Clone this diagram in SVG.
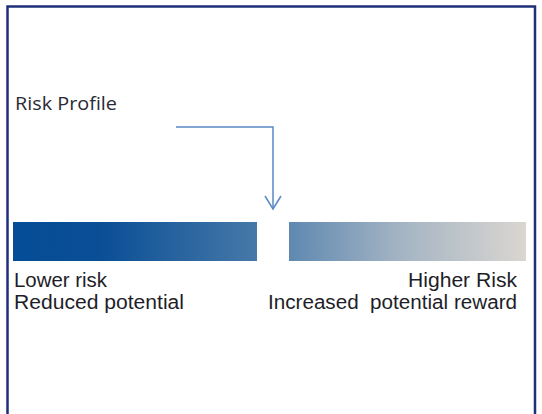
<svg xmlns="http://www.w3.org/2000/svg" width="542" height="414" viewBox="0 0 542 414">
  <style>
    .lbl { font-family: "Liberation Sans", Arial, sans-serif; font-size: 20px; fill: #1e1e28; }
    .title { font-family: "Open Sans", "Noto Sans", sans-serif; font-size: 18.5px; fill: #2a2a35; }
    .conn { fill: none; stroke: #5a89c3; stroke-width: 1.5; }
  </style>
  <defs>
    <linearGradient id="risk" gradientUnits="userSpaceOnUse" x1="13" y1="0" x2="526" y2="0">
      <stop offset="0" stop-color="#054d97"/>
      <stop offset="0.17" stop-color="#0a4e96"/>
      <stop offset="0.476" stop-color="#4679a8"/>
      <stop offset="0.54" stop-color="#5f89b1"/>
      <stop offset="0.75" stop-color="#a3b3c3"/>
      <stop offset="1" stop-color="#dad6d1"/>
    </linearGradient>
  </defs>
  <rect x="0" y="0" width="542" height="414" fill="#ffffff"/>
  <path d="M7.5,420 V6.5 H535 V420" fill="none" stroke="#1f2f78" stroke-width="2.5"/>

  <g id="risk-profile-label">
    <text class="title" x="15" y="110" textLength="102" lengthAdjust="spacingAndGlyphs">Risk Profile</text>
  </g>

  <g id="lower-bar">
    <rect x="13" y="222" width="244" height="39" fill="url(#risk)"/>
  </g>
  <g id="higher-bar">
    <rect x="289" y="222" width="237" height="39" fill="url(#risk)"/>
  </g>

  <g id="lower-label">
    <text class="lbl" x="14" y="287" textLength="93" lengthAdjust="spacingAndGlyphs">Lower risk</text>
    <text class="lbl" x="14" y="309" textLength="170" lengthAdjust="spacingAndGlyphs">Reduced potential</text>
  </g>
  <g id="higher-label">
    <text class="lbl" x="408" y="287" textLength="109" lengthAdjust="spacingAndGlyphs">Higher Risk</text>
    <text class="lbl" x="268" y="309" textLength="249" lengthAdjust="spacingAndGlyphs" xml:space="preserve">Increased  potential reward</text>
  </g>

  <g id="connectors">
    <path class="conn" d="M176,127 H273 V209"/>
    <path class="conn" d="M265,196 L273,209 L281,196"/>
  </g>
</svg>
